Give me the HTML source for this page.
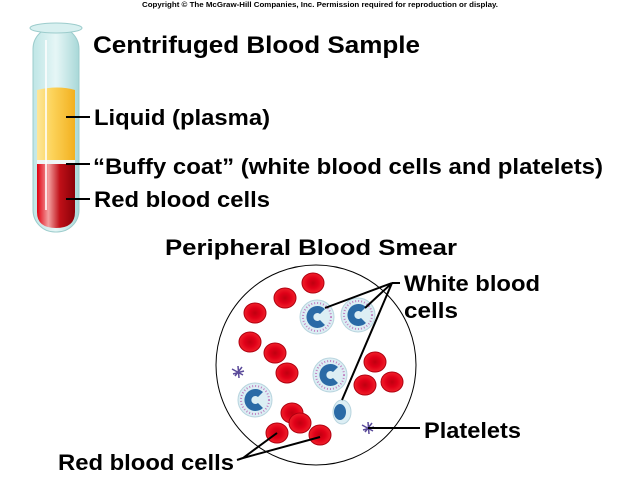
<!DOCTYPE html>
<html><head><meta charset="utf-8"><style>
html,body{margin:0;padding:0;background:#fff}
svg{display:block}
text{font-family:"Liberation Sans",Arial,sans-serif;font-weight:bold;fill:#000}
</style></head><body>
<svg width="640" height="480" viewBox="0 0 640 480" xmlns="http://www.w3.org/2000/svg">
<defs>
<linearGradient id="yel" x1="0" x2="1"><stop offset="0" stop-color="#fde79a"/><stop offset="0.4" stop-color="#fcd35a"/><stop offset="1" stop-color="#f2b020"/></linearGradient>
<linearGradient id="red" x1="0" x2="1"><stop offset="0" stop-color="#e00010"/><stop offset="0.3" stop-color="#f3a0a0"/><stop offset="0.6" stop-color="#c01018"/><stop offset="1" stop-color="#8a0008"/></linearGradient>
<linearGradient id="glass" x1="0" x2="1"><stop offset="0" stop-color="#bfe6e6"/><stop offset="0.5" stop-color="#e6f6f6"/><stop offset="1" stop-color="#a8d8d8"/></linearGradient>
<radialGradient id="rbc" cx="0.5" cy="0.5" r="0.5"><stop offset="0" stop-color="#c00010"/><stop offset="0.5" stop-color="#e00018"/><stop offset="1" stop-color="#f0202a"/></radialGradient>
<g id="r"><ellipse rx="11" ry="10" fill="url(#rbc)" stroke="#b00010" stroke-width="1"/></g>
<g id="w"><circle r="17" fill="#dceef4" stroke="#b8d4de"/><circle r="14" fill="none" stroke="#c080c0" stroke-width="2" stroke-dasharray="1 2"/><path d="M8,-8 A11,11 0 1 0 8,8 L3,3 A4,4 0 1 1 3,-3 Z" fill="#2a6aa6"/></g>
<g id="p" stroke="#5a4a9a" stroke-width="1.5"><path d="M-6,-3 L5,3 M-3,4 L4,-5 M-5,2 L6,-1 M0,-6 L1,6"/></g>
</defs>
<text x="142" y="7" font-size="7" textLength="356" lengthAdjust="spacingAndGlyphs">Copyright © The McGraw-Hill Companies, Inc. Permission required for reproduction or display.</text>
<rect x="33" y="27" width="46" height="205" rx="22" fill="url(#glass)" stroke="#9ccccc"/>
<path d="M37,90 Q58,85 75,90 L75,160 L37,160 Z" fill="url(#yel)"/>
<rect x="37" y="160" width="38" height="4" fill="#eef6f6"/>
<path d="M37,164 L75,164 L75,212 Q75,228 56,228 Q37,228 37,212 Z" fill="url(#red)"/>
<ellipse cx="56" cy="28" rx="26" ry="5" fill="#d8f0f0" stroke="#9ccccc"/>
<line x1="46" y1="40" x2="46" y2="210" stroke="#fff" stroke-width="2" opacity="0.8"/>
<g stroke="#000" stroke-width="2"><line x1="66" y1="117" x2="90" y2="117"/><line x1="66" y1="164" x2="90" y2="164"/><line x1="66" y1="199" x2="90" y2="199"/></g>
<text x="93" y="53" font-size="24" textLength="327" lengthAdjust="spacingAndGlyphs">Centrifuged Blood Sample</text>
<text x="94" y="125" font-size="22" textLength="176" lengthAdjust="spacingAndGlyphs">Liquid (plasma)</text>
<text x="93" y="174" font-size="22" textLength="510" lengthAdjust="spacingAndGlyphs">“Buffy coat” (white blood cells and platelets)</text>
<text x="94" y="207" font-size="22" textLength="176" lengthAdjust="spacingAndGlyphs">Red blood cells</text>
<text x="165" y="255" font-size="22" textLength="292" lengthAdjust="spacingAndGlyphs">Peripheral Blood Smear</text>
<circle cx="316" cy="365" r="100" fill="#fff" stroke="#000" stroke-width="1"/>
<use href="#r" x="313" y="283"/><use href="#r" x="285" y="298"/><use href="#r" x="255" y="313"/>
<use href="#r" x="250" y="342"/><use href="#r" x="275" y="353"/><use href="#r" x="287" y="373"/>
<use href="#r" x="375" y="362"/><use href="#r" x="392" y="382"/><use href="#r" x="365" y="385"/>
<use href="#r" x="292" y="413"/><use href="#r" x="300" y="423"/><use href="#r" x="277" y="433"/><use href="#r" x="320" y="435"/>
<use href="#w" x="317" y="317"/><use href="#w" x="358" y="315"/><use href="#w" x="330" y="375"/><use href="#w" x="255" y="400"/>
<ellipse cx="342" cy="412" rx="9" ry="12" fill="#dceef4" stroke="#b8d4de"/><ellipse cx="340" cy="412" rx="6" ry="8" fill="#2a6aa6"/>
<use href="#p" x="238" y="372"/><use href="#p" x="368" y="428"/>
<g stroke="#000" stroke-width="2" fill="none">
<path d="M325,308 L392,283 L365,308 M392,283 L342,400 M392,283 L400,283"/>
<path d="M368,428 L420,428"/>
<path d="M277,433 L243,458 L320,437 M243,458 L237,460"/>
</g>
<text x="404" y="291" font-size="22" textLength="136" lengthAdjust="spacingAndGlyphs">White blood</text>
<text x="404" y="318" font-size="22" textLength="54" lengthAdjust="spacingAndGlyphs">cells</text>
<text x="424" y="438" font-size="22" textLength="97" lengthAdjust="spacingAndGlyphs">Platelets</text>
<text x="58" y="470" font-size="22" textLength="176" lengthAdjust="spacingAndGlyphs">Red blood cells</text>
</svg>
</body></html>
